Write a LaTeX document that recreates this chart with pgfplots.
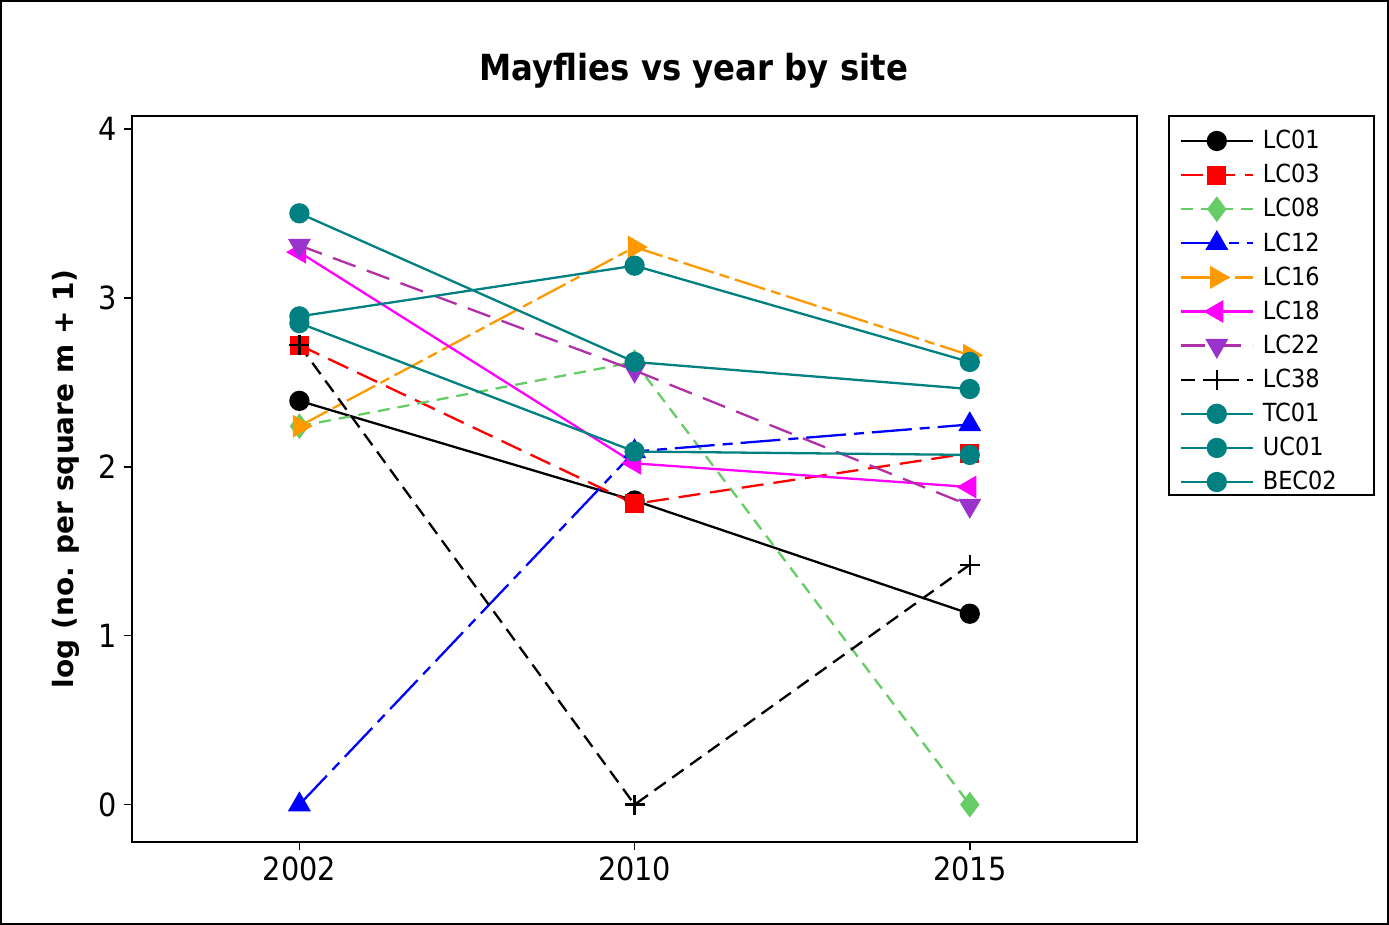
\documentclass[border=0pt]{standalone}
\usepackage{pgfplots}
\pgfplotsset{compat=1.18}
\usepackage{fontspec}
\setmainfont{DejaVu Sans}
\newfontfamily\condfont{DejaVu Sans Condensed}

\definecolor{tealc}{RGB}{0,128,128}
\definecolor{greenc}{RGB}{102,204,102}
\definecolor{orangec}{RGB}{255,153,0}
\definecolor{magentac}{RGB}{255,0,255}
\definecolor{purplec}{RGB}{153,51,204}
\definecolor{purpleline}{RGB}{176,48,170}

\begin{document}
\begin{tikzpicture}
% outer frame of the graph window
\draw[line width=1pt] (-65.5pt,-41pt) rectangle (629pt,421pt);
% legend frame
\draw[line width=0.9pt] (519.5pt,173.5pt) rectangle (622pt,363.5pt);
\begin{axis}[
    at={(0,0)}, anchor=south west,
    scale only axis,
    width=503.5pt, height=363.5pt,
    xmin=-0.5, xmax=2.5,
    ymin=-0.22, ymax=4.077,
    xtick={0,1,2},
    xticklabels={2002,2010,2015},
    ytick={0,1,2,3,4},
    xtick pos=left, ytick pos=left,
    tick align=outside,
    major tick length=4pt,
    tick style={black, line width=0.8pt},
    axis line style={line width=1pt},
    /pgf/number format/assume math mode=true,
    ticklabel style={font=\condfont\fontsize{16}{16}\selectfont},
    title={Mayflies vs year by site},
    title style={font=\condfont\bfseries\fontsize{18}{18}\selectfont,
                 at={(0.559,1.0454)}, anchor=center, yshift=0pt},
    ylabel={log (no. per square m + 1)},
    ylabel style={font=\bfseries\fontsize{14}{14}\selectfont,
                  at={(axis description cs:-0.0655,0.5)}, anchor=center},
    legend style={at={(1.0318,1)}, anchor=north west,
                  font=\condfont\fontsize{12.5}{12.5}\selectfont,
                  draw=none, fill=none,
                  row sep=2.3pt, inner xsep=5pt, inner ysep=5pt,
                  /tikz/every odd column/.append style={column sep=2.5pt}},
    legend cell align=left,
    legend image code/.code={
        \draw[mark repeat=2,mark phase=2]
        plot coordinates {(0pt,0pt) (18pt,0pt) (36pt,0pt)};},
    every axis plot/.append style={line width=1.15pt},
    clip=false,
]

\addplot[black, mark=*, mark size=4.5pt, mark options={solid}]
  coordinates {(0,2.39) (1,1.80) (2,1.13)};
\addlegendentry{LC01}

\addplot[red, dash pattern=on 11pt off 5pt, mark=square*, mark size=4.2pt, mark options={solid}]
  coordinates {(0,2.72) (1,1.78) (2,2.08)};
\addlegendentry{LC03}

\addplot[greenc, dash pattern=on 6pt off 4pt, mark=diamond*, mark size=5.5pt, mark options={solid}]
  coordinates {(0,2.24) (1,2.62) (2,0)};
\addlegendentry{LC08}

\addplot[blue, dash pattern=on 20pt off 4pt on 5pt off 4pt, mark=triangle*, mark size=5.5pt, mark options={solid}]
  coordinates {(0,0) (1,2.09) (2,2.25)};
\addlegendentry{LC12}

\addplot[orangec, dash pattern=on 16pt off 3pt on 5pt off 3pt, mark=triangle*, mark size=5.5pt, mark options={solid, rotate=-90}]
  coordinates {(0,2.24) (1,3.30) (2,2.66)};
\addlegendentry{LC16}

\addplot[magentac, mark=triangle*, mark size=5.5pt, mark options={solid, rotate=90}]
  coordinates {(0,3.27) (1,2.02) (2,1.88)};
\addlegendentry{LC18}

\addplot[purpleline, dash pattern=on 12pt off 6pt, mark=triangle*, mark size=5.5pt, mark options={solid, rotate=180, fill=purplec, draw=purplec}]
  coordinates {(0,3.31) (1,2.57) (2,1.77)};
\addlegendentry{LC22}

\addplot[black, dash pattern=on 7pt off 4pt, mark=+, mark size=5pt, mark options={solid}]
  coordinates {(0,2.72) (1,0) (2,1.42)};
\addlegendentry{LC38}

\addplot[tealc, mark=*, mark size=4.5pt]
  coordinates {(0,3.50) (1,2.62) (2,2.46)};
\addlegendentry{TC01}

\addplot[tealc, mark=*, mark size=4.5pt]
  coordinates {(0,2.89) (1,3.19) (2,2.62)};
\addlegendentry{UC01}

\addplot[tealc, mark=*, mark size=4.5pt]
  coordinates {(0,2.85) (1,2.09) (2,2.07)};
\addlegendentry{BEC02}

\end{axis}
\end{tikzpicture}
\end{document}
